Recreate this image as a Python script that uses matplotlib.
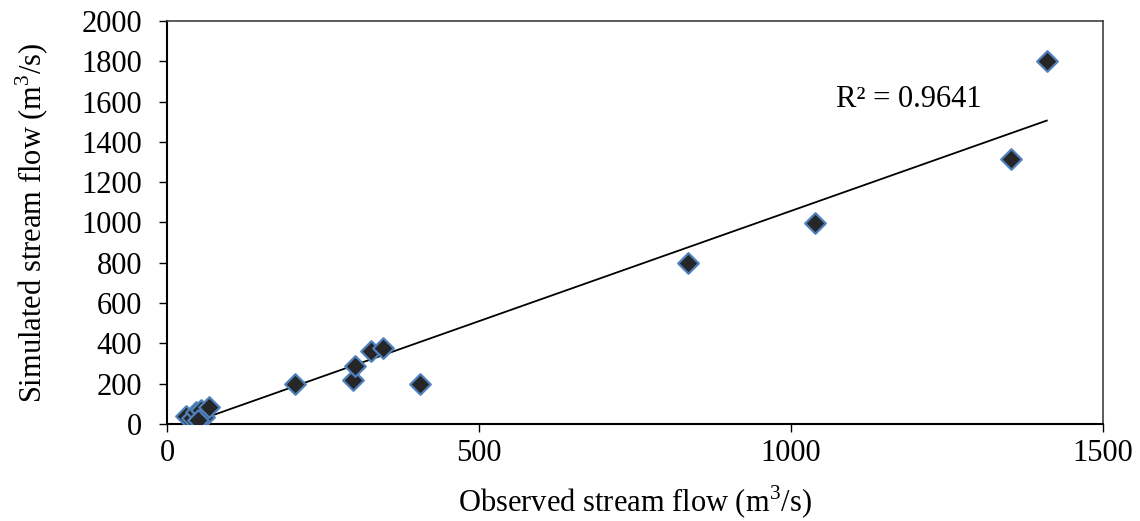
import numpy as np
import matplotlib
matplotlib.use("Agg")
import matplotlib.pyplot as plt

plt.rcParams['font.family'] = ['Liberation Serif', 'DejaVu Serif']
plt.rcParams['mathtext.fontset'] = 'custom'
plt.rcParams['mathtext.rm'] = 'Liberation Serif'

observed = [30, 40, 47, 55, 60, 68, 50, 205, 298, 302, 327, 346, 405, 835, 1038, 1352, 1410]
simulated = [40, 30, 60, 70, 35, 82, 20, 200, 218, 290, 362, 375, 200, 797, 998, 1313, 1800]
r2_label = "R² = 0.9641"
xticks = [0, 500, 1000, 1500]
yticks = [0, 200, 400, 600, 800, 1000, 1200, 1400, 1600, 1800, 2000]

fig = plt.figure(figsize=(11.4, 5.21), dpi=100)
ax = fig.add_axes([0.1465, 0.1862, 0.8210, 0.7735])

x = np.array(observed, dtype=float)
y = np.array(simulated, dtype=float)
slope, intercept = np.polyfit(x, y, 1)
xl = np.array([x.min(), x.max()])
ax.plot(xl, slope * xl + intercept, color='black', lw=1.3, zorder=2)

ax.scatter(x, y, marker='D', s=110, facecolor='#262626', edgecolor='#4f81bd',
           linewidth=1.6, zorder=3)

ax.text(1072, 1608, r2_label, fontsize=22, va='center', ha='left')

ax.set_xlim(0, 1500)
ax.set_ylim(0, 2000)
ax.set_xticks(xticks)
ax.set_yticks(yticks)
ax.tick_params(direction='out', length=6, width=1, labelsize=22)
ax.tick_params(axis='y', pad=12)
ax.tick_params(axis='x', pad=5)

for s in ['left', 'bottom']:
    ax.spines[s].set_linewidth(1.5)
    ax.spines[s].set_color('black')
for s in ['top', 'right']:
    ax.spines[s].set_linewidth(1.2)
    ax.spines[s].set_color('#404040')

ax.set_xlabel('Observed stream flow (m$^3$/s)', fontsize=22, labelpad=11)
ax.set_ylabel('Simulated stream flow (m$^3$/s)', fontsize=22, labelpad=22)

fig.savefig('out.png', dpi=100)
